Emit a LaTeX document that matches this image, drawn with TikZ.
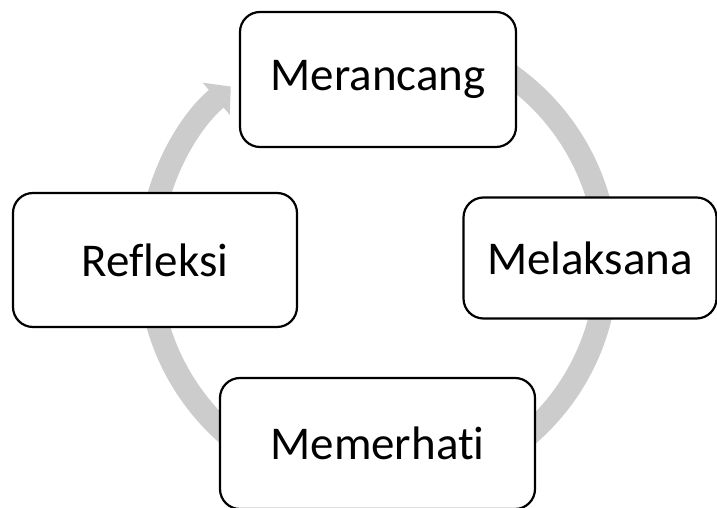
\documentclass[tikz,border=0pt]{standalone}
\usepackage{fontspec}
\setmainfont{Carlito}[Ligatures=NoCommon]
\usetikzlibrary{arrows.meta}

\tikzset{
    langkah/.style={draw,line width=2.2pt,rounded corners=20pt,fill=white,
        inner sep=0pt,font=\fontsize{47}{56}\selectfont},
    kitaran/.style={draw=gray!40,line width=23pt,-{Triangle[width=41pt,length=19pt]}}
}

\begin{document}
\begin{tikzpicture}[x=1pt,y=1pt]
    \useasboundingbox (0,0) rectangle (717,508);
    \coordinate (pusat) at (378,246);
    % gelang kitaran di belakang kotak
    \draw[kitaran] (pusat) ++(80:229) arc[start angle=80,end angle=-230,radius=229];
    \node[langkah,minimum width=276pt,minimum height=135pt] (merancang) at (378,428.5) {Merancang};
    \node[langkah,minimum width=253pt,minimum height=121pt] (melaksana) at (590,250) {Melaksana};
    \node[langkah,minimum width=315pt,minimum height=131pt] (memerhati) at (377.5,64.5) {Memerhati};
    \node[langkah,minimum width=284pt,minimum height=134pt] (refleksi) at (155,248) {Refleksi};
\end{tikzpicture}
\end{document}
